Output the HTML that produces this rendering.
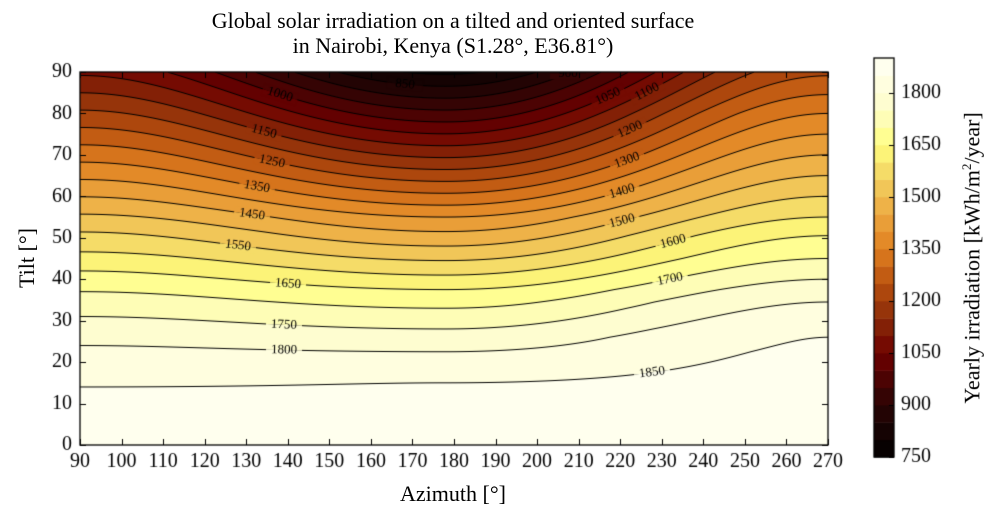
<!DOCTYPE html>
<html><head><meta charset="utf-8"><style>
body{margin:0;background:#fff;width:1000px;height:524px;overflow:hidden;position:relative;font-family:"Liberation Serif",serif;}
.t{position:absolute;white-space:nowrap;color:#000;}
canvas{position:absolute;left:0;top:0;}
</style></head><body>
<canvas id="c" width="1000" height="524"></canvas>
<div class="t" style="left:0;width:906px;text-align:center;top:8px;font-size:22px;line-height:25px;">Global solar irradiation on a tilted and oriented surface<br>in Nairobi, Kenya (S1.28°, E36.81°)</div>
<div class="t" style="left:0;width:906px;text-align:center;top:481px;font-size:22px;">Azimuth [°]</div>
<div class="t" style="left:27px;top:258px;font-size:22px;transform:translate(-50%,-50%) rotate(-90deg);">Tilt [°]</div>
<div class="t" style="left:972px;top:258px;font-size:22px;transform:translate(-50%,-50%) rotate(-90deg);">Yearly irradiation [kWh/m<sup style="font-size:13px">2</sup>/year]</div>
<script>
const c=document.getElementById('c'),g=c.getContext('2d');
const X0=80,X1=828,Y0=72,Y1=445;
const ax=a=>X0+(a-90)*(X1-X0)/180, ty=t=>Y1-t*(Y1-Y0)/90;
function pl(p,t){for(let i=0;i<p.length-1;i++){if(t<=p[i+1][0]){const r=(t-p[i][0])/(p[i+1][0]-p[i][0]);return p[i][1]+r*(p[i+1][1]-p[i][1]);}}return p[p.length-1][1];}
const L=[[0,1885],[14,1850],[24,1800],[31,1750],[37,1700],[42,1650],[46.6,1600],[51.4,1550],[55.7,1500],[90,1090]];
const C=[[0,1885],[15,1850],[22.5,1800],[28,1750],[33,1700],[37.5,1650],[41,1600],[44.5,1550],[48,1500],[51.5,1450],[55,1400],[90,790]];
const R=[[0,1890],[26,1850],[34.5,1800],[40,1750],[45,1700],[50.5,1650],[55,1600],[60,1550],[65,1500],[70,1450],[75,1400],[80,1350],[90,1240]];
const AM=178;
function f(a,t){const fc=pl(C,t);let w,fo;
if(a<AM){w=(1-Math.cos(Math.PI*(AM-a)/(AM-90)))/2;fo=pl(L,t);}else{w=(1-Math.cos(Math.PI*(a-AM)/(270-AM)))/2;fo=pl(R,t);}
return fc+(fo-fc)*w;}
const S=[[750,[0,0,0]],[900,[42,5,5]],[1050,[110,0,0]],[1150,[138,42,8]],[1250,[184,80,15]],[1350,[224,128,32]],[1450,[236,168,64]],[1550,[242,208,96]],[1650,[255,255,128]],[1750,[254,252,200]],[1900,[255,255,245]]];
function col(v){for(let i=0;i<S.length-1;i++){if(v<=S[i+1][0]){const r=(v-S[i][0])/(S[i+1][0]-S[i][0]);return S[i][1].map((x,k)=>Math.round(x+r*(S[i+1][1][k]-x)));}}return S[S.length-1][1];}
function bc(v){const l=Math.floor((v-750)/50);return col(750+l*50+25);}
const W=X1-X0,H=Y1-Y0,im=g.createImageData(W,H);
for(let py=0;py<H;py++){const t=(Y1-(Y0+py+0.5))*90/H;for(let px=0;px<W;px++){const a=90+(px+0.5)*180/W;const cc=bc(f(a,t));const k=(py*W+px)*4;im.data[k]=cc[0];im.data[k+1]=cc[1];im.data[k+2]=cc[2];im.data[k+3]=255;}}
g.putImageData(im,X0,Y0);
function solve(a,lv){let lo=0,hi=90;if(f(a,0)<lv||f(a,90)>lv)return null;for(let i=0;i<40;i++){const m=(lo+hi)/2;if(f(a,m)>lv)lo=m;else hi=m;}return (lo+hi)/2;}
g.save();g.beginPath();g.rect(X0,Y0,W,H);g.clip();
g.strokeStyle='#000';g.lineWidth=1;
for(let lv=800;lv<=1850;lv+=50){g.beginPath();let st=false;for(let px=0;px<=W;px++){const a=90+px*180/W;const t=solve(a,lv);if(t===null){st=false;continue;}const x=X0+px,y=ty(t);if(!st){g.moveTo(x,y);st=true;}else g.lineTo(x,y);}g.stroke();}
const labs=[[1000,280],[1150,264],[1250,272],[1350,257],[1450,252],[1550,238],[1650,288],[1750,284],[1800,284],[850,405],[900,568],[950,603],[1050,608],[1100,647],[1200,630],[1300,627],[1400,622],[1500,622],[1600,673],[1700,670],[1850,652]];
g.font='13px "Liberation Serif", serif';g.textAlign='center';g.textBaseline='middle';
for(const [lv,x] of labs){const a=90+(x-X0)*180/W;const t=solve(a,lv);if(t===null)continue;const y=ty(t);
const t2=solve(a+2,lv),t1=solve(a-2,lv);let ang=0;if(t1!==null&&t2!==null){ang=Math.atan2(ty(t2)-ty(t1),ax(a+2)-ax(a-2));}
g.save();g.translate(x,y);g.rotate(ang);const cc1=bc(f(a,Math.min(90,t+1))),cc2=bc(f(a,Math.max(0,t-1)));
g.fillStyle=`rgb(${cc1})`;g.fillRect(-18,-6,36,6);g.fillStyle=`rgb(${cc2})`;g.fillRect(-18,0,36,6);
g.fillStyle='#000';g.fillText(String(lv),0,0);g.restore();}
g.restore();
g.strokeStyle='#000';g.fillStyle='#000';g.lineWidth=1.3;g.strokeRect(X0,Y0,W,H);
g.lineWidth=1;g.font='20px "Liberation Serif", serif';
for(let a=90;a<=270;a+=10){const x=Math.round(ax(a))+0.5;g.beginPath();g.moveTo(x,Y1);g.lineTo(x,Y1-6);g.moveTo(x,Y0);g.lineTo(x,Y0+6);g.stroke();g.textAlign='center';g.textBaseline='top';g.fillText(String(a),ax(a),452);}
for(let t=0;t<=90;t+=10){const y=Math.round(ty(t))+0.5;g.beginPath();g.moveTo(X0,y);g.lineTo(X0+6,y);g.moveTo(X1,y);g.lineTo(X1-6,y);g.stroke();g.textAlign='right';g.textBaseline='middle';g.fillText(String(t),72,ty(t));}
const CX=874,CW=20,CT=58,CB=457;const cy=v=>CB-(v-750)*(CB-CT)/1150;
for(let l=0;l<23;l++){const v=750+l*50;g.fillStyle=`rgb(${col(v+25)})`;g.fillRect(CX,cy(v+50),CW,cy(v)-cy(v+50)+0.5);}
g.strokeStyle='#000';g.lineWidth=1.3;g.strokeRect(CX,CT,CW,CB-CT);g.lineWidth=1;g.textAlign='left';g.textBaseline='middle';g.fillStyle='#000';
for(let v=750;v<=1800;v+=150){const y=Math.round(cy(v))+0.5;g.beginPath();g.moveTo(CX+CW,y);g.lineTo(CX+CW-5,y);g.stroke();g.fillText(String(v),901,cy(v));}
</script>
</body></html>
